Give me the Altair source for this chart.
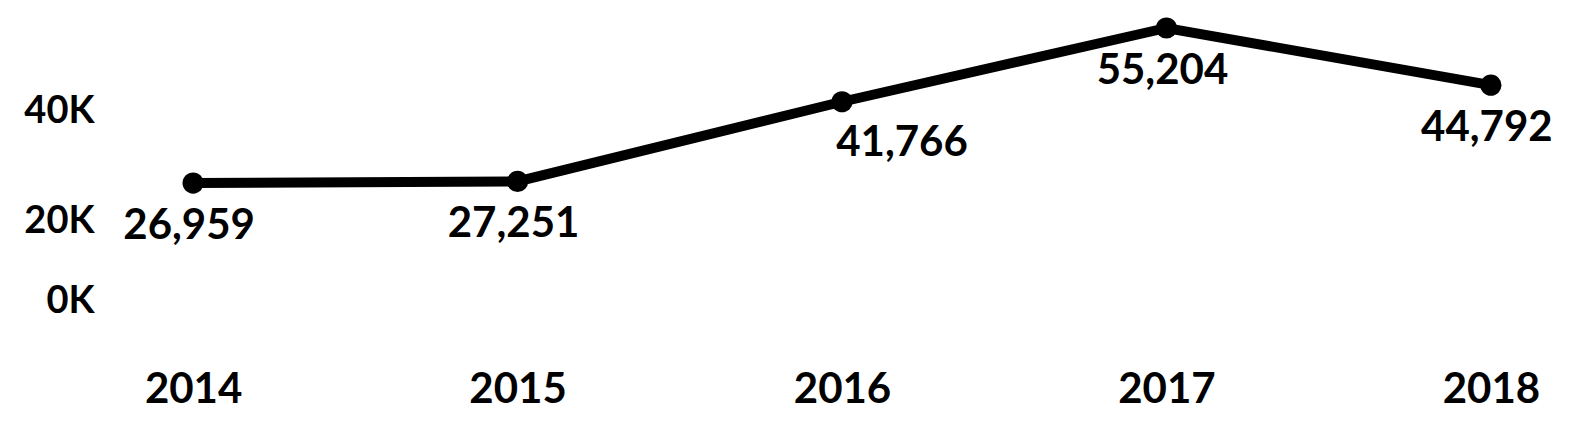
import altair as alt
import pandas as pd

years = ["2014", "2015", "2016", "2017", "2018"]
values = [26959, 27251, 41766, 55204, 44792]
labels = ["26,959", "27,251", "41,766", "55,204", "44,792"]
y_ticks = [0, 20000, 40000]

df = pd.DataFrame({"year": years, "value": values, "label": labels})

FONT = "Lato"

x_enc = alt.X(
    "year:O",
    scale=alt.Scale(type="point", padding=0.25),
    axis=alt.Axis(
        title=None, domain=False, ticks=False, grid=False,
        labelFont=FONT, labelFontSize=42, labelFontWeight="bold",
        labelColor="black", labelAngle=0, labelBaseline="middle",
        labelPadding=58,
    ),
)
y_enc = alt.Y(
    "value:Q",
    scale=alt.Scale(domain=[0, 58300], nice=False, zero=True),
    axis=alt.Axis(
        title=None, domain=False, ticks=False, grid=False,
        values=y_ticks,
        labelExpr="format(datum.value / 1000, 'd') + 'K'",
        labelFont=FONT, labelFontSize=38, labelFontWeight="bold",
        labelColor="black", labelPadding=18,
        labelOffset=alt.expr("datum.value == 0 ? -30 : 0"),
    ),
)

base = alt.Chart(df).encode(x=x_enc, y=y_enc)

line = base.mark_line(color="black", strokeWidth=10)
points = base.mark_circle(color="black", size=450, opacity=1)

text_style = dict(font=FONT, fontSize=42, fontWeight="bold", color="black",
                  baseline="middle")
text_main = (
    base.transform_filter(alt.datum.year != "2016")
    .mark_text(dy=43, dx=-4, **text_style)
    .encode(text="label:N")
)
text_side = (
    base.transform_filter(alt.datum.year == "2016")
    .mark_text(dy=41, dx=60, **text_style)
    .encode(text="label:N")
)

chart = (
    alt.layer(line, points, text_main, text_side)
    .properties(
        width=1460,
        height=320,
        background="white",
        autosize=alt.AutoSizeParams(type="none"),
        padding={"left": 104, "top": 3, "right": 6, "bottom": 90},
    )
    .configure_view(strokeWidth=0, stroke=None)
)

chart.save("out.html", embed_options={"renderer": "svg", "actions": False})
